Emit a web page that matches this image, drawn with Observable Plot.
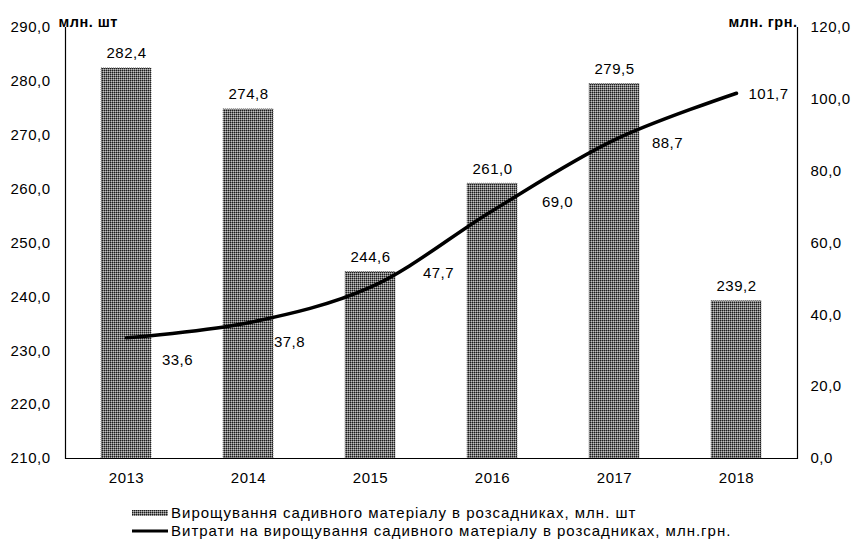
<!DOCTYPE html>
<html><head><meta charset="utf-8">
<script src="https://cdn.jsdelivr.net/npm/d3@7"></script>
<script src="https://cdn.jsdelivr.net/npm/@observablehq/plot@0.6"></script>
<style>
body{margin:0;background:#fff;font-family:"Liberation Sans",Arial,sans-serif;}
#legend{font-size:15px;letter-spacing:1.0px;color:#000;padding-left:132px;margin-top:9px;line-height:18px;}
#legend .row{display:flex;align-items:center;height:18px;}
#legend svg{margin-right:3px;}
</style></head><body>
<svg width="0" height="0" style="position:absolute"><defs>
<pattern id="chk" width="2" height="2" patternUnits="userSpaceOnUse">
<rect width="2" height="2" fill="#747474" shape-rendering="crispEdges"/><rect width="1" height="1" fill="#1c1c1c" shape-rendering="crispEdges"/><rect x="1" y="1" width="1" height="1" fill="#c0c0c0" shape-rendering="crispEdges"/>
</pattern>
<pattern id="chkL" width="2" height="2" patternUnits="userSpaceOnUse">
<rect width="2" height="2" fill="#747474" shape-rendering="crispEdges"/><rect width="1" height="1" fill="#1c1c1c" shape-rendering="crispEdges"/><rect x="1" y="1" width="1" height="1" fill="#c0c0c0" shape-rendering="crispEdges"/>
</pattern></defs></svg>
<div id="chart"></div>
<div id="legend">
<div class="row"><svg width="36" height="6"><rect width="36" height="6" fill="url(#chkL)"/></svg><span>Вирощування садивного матеріалу в розсадниках, млн. шт</span></div>
<div class="row"><svg width="36" height="6"><rect y="1.5" width="36" height="3" fill="#000"/></svg><span>Витрати на вирощування садивного матеріалу в розсадниках, млн.грн.</span></div>
</div>
<script>
const years = ["2013", "2014", "2015", "2016", "2017", "2018"];
const seedlings = [282.4, 274.8, 244.6, 261.0, 279.5, 239.2];
const costs = [33.6, 37.8, 47.7, 69.0, 88.7, 101.7];
const leftTicks = [210, 220, 230, 240, 250, 260, 270, 280, 290];
const rightTicks = [0, 20, 40, 60, 80, 100, 120];
const leftUnit = "млн. шт";
const rightUnit = "млн. грн.";

const fmt = v => v.toFixed(1).replace(".", ",");
const toLeft = v => 210 + v * 80 / 120;
const fromLeft = d => Math.round((d - 210) * 1.5 * 10) / 10;

const barData = years.map((y, i) => ({year: y, v: seedlings[i]}));
const lineData = years.map((y, i) => ({year: y, v: toLeft(costs[i]), c: costs[i]}));
const lineLabelOffsets = [[51, 22], [41, 19], [68, -14], [65, -8], [53, 3], [32, 1]];

const font = "15px";
const chart = Plot.plot({
  width: 854,
  height: 495,
  marginTop: 27,
  marginBottom: 37,
  marginLeft: 65,
  marginRight: 57,
  style: {fontFamily: '"Liberation Sans", Arial, sans-serif', fontSize: font, letterSpacing: "0.5px", color: "#000", background: "#fff"},
  x: {domain: years, paddingInner: 0.59, paddingOuter: 0.295},
  y: {domain: [210, 290]},
  marks: [
    Plot.barY(barData, {x: "year", y1: 210, y2: "v", fill: "url(#chk)", stroke: "#333", strokeWidth: 0.6, strokeDasharray: "1,1"}),
    Plot.text(barData, {x: "year", y: "v", text: d => fmt(d.v), dy: -15, fontSize: font}),
    Plot.line(lineData, {x: "year", y: "v", curve: "catmull-rom", stroke: "#000", strokeWidth: 3.5}),
    ...lineData.map((d, i) => Plot.text([d], {x: "year", y: "v", text: e => fmt(e.c), dx: lineLabelOffsets[i][0], dy: lineLabelOffsets[i][1], fontSize: font})),
    Plot.ruleY([210], {stroke: "#000", strokeWidth: 1.2}),
    Plot.frame({anchor: "left", stroke: "#000", strokeWidth: 1.2}),
    Plot.frame({anchor: "right", stroke: "#000", strokeWidth: 1.2}),
    Plot.axisY(leftTicks, {anchor: "left", tickSize: 0, tickPadding: 15, tickFormat: fmt, label: null, fontSize: font}),
    Plot.axisY(rightTicks.map(toLeft), {anchor: "right", tickSize: 0, tickPadding: 13, tickFormat: d => fmt(fromLeft(d)), label: null, fontSize: font}),
    Plot.axisX({tickSize: 0, tickPadding: 14, label: null, fontSize: font}),
    Plot.text([leftUnit], {frameAnchor: "top-left", dx: -7, dy: -11, textAnchor: "start", fontWeight: "bold", fontSize: "14.5px"}),
    Plot.text([rightUnit], {frameAnchor: "top-right", dx: 0, dy: -11, textAnchor: "end", fontWeight: "bold", fontSize: "14.5px"})
  ]
});
document.getElementById("chart").appendChild(chart);

// Align the pattern grid with device pixels, compensating any group offset.
const barGroup = chart.querySelector('g[aria-label="bar"]');
if (barGroup) {
  const m = barGroup.getCTM();
  const ox = m ? m.e % 1 : 0, oy = m ? m.f % 1 : 0;
  document.getElementById("chk").setAttribute("patternTransform", `translate(${-ox},${-oy})`);
}
</script>
</body></html>
